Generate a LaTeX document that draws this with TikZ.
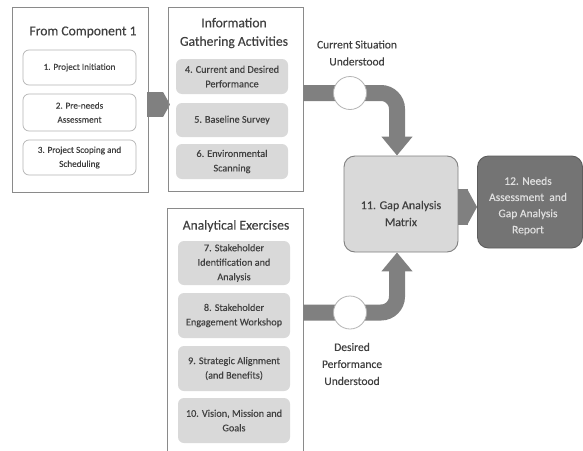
\documentclass[tikz,border=0pt]{standalone}
\usepackage{fontspec}
\setmainfont{Carlito}[FakeBold=0.25]
\usetikzlibrary{arrows.meta}
\definecolor{txt}{HTML}{404040}
\definecolor{band}{HTML}{808080}
\definecolor{frame}{HTML}{8A8A8A}
\definecolor{lightfill}{HTML}{D9D9D9}
\definecolor{darkfill}{HTML}{747474}
\definecolor{pale}{HTML}{B4B4B4}
\tikzset{
  outerbox/.style={draw=frame, line width=0.9pt, fill=white, minimum width=136pt},
  whitebox/.style={draw=pale, line width=0.7pt, fill=white, rounded corners=6pt,
    minimum width=113pt, align=center, text=txt, font=\fontsize{9.2}{14}\selectfont, inner sep=0pt},
  graybox/.style={fill=lightfill, rounded corners=6pt, minimum width=112pt,
    align=center, text=txt, font=\fontsize{10.2}{14.5}\selectfont, inner sep=0pt},
  titletext/.style={text=txt, font=\fontsize{13.6}{18.5}\selectfont, align=center, inner sep=0pt},
  labeltext/.style={text=txt, font=\fontsize{11.5}{17}\selectfont, align=center, inner sep=0pt},
  bandline/.style={draw=band, line width=16pt, rounded corners=16pt,
    -{Triangle[length=19pt,width=30pt]}},
  chevron/.style={draw=band, line width=25pt, -{Triangle[length=7pt,width=25pt]}},
  chevronb/.style={draw=band, line width=36pt, -{Triangle[length=10pt,width=36pt]}},
  circ/.style={circle, draw=pale, line width=0.8pt, fill=white, minimum size=33pt, inner sep=0pt},
}
\begin{document}
\begin{tikzpicture}[x=1pt,y=-1pt]
\useasboundingbox (0,0) rectangle (583,450);
\clip (0,0) rectangle (583,450);
\fill[white] (0,0) rectangle (583,450);

% chevron between first two columns
\coordinate (chA) at (147,104.5);
\coordinate (chB) at (170,104.5);

% outer boxes
\node[outerbox, minimum height=185pt] (outer1) at (80,99.5) {};
\draw[chevron] (chA) -- (chB);
\node[outerbox, minimum width=135pt, minimum height=184pt, fill=none] (outer2) at (235.5,99) {};
\node[outerbox, minimum width=136pt, minimum height=262pt] (outer3) at (235,339) {};

% titles
\node[titletext] (t1) at (83,32) {From Component 1};
\node[titletext] (t2) at (234,33) {Information\\Gathering Activities};
\node[titletext] (t3) at (236,226) {Analytical Exercises};

% column 1
\node[whitebox, minimum height=35pt] (b1) at (79.5,67.5) {1. Project Initiation};
\node[whitebox, minimum height=37pt] (b2) at (79.5,112.5) {2. Pre-needs\\Assessment};
\node[whitebox, minimum height=35pt] (b3) at (79.5,157.5) {3. Project Scoping and\\Scheduling};

% column 2
\node[graybox, minimum height=35pt] (b4) at (232,76.5) {4. Current and Desired\\Performance};
\node[graybox, minimum height=34pt] (b5) at (232,120) {5. Baseline Survey};
\node[graybox, minimum height=35pt] (b6) at (232,161.5) {6. Environmental\\Scanning};

% column 3
\node[graybox, minimum height=44pt] (b7) at (234,263) {7. Stakeholder\\Identification and\\Analysis};
\node[graybox, minimum height=45pt] (b8) at (234,315.5) {8. Stakeholder\\Engagement Workshop};
\node[graybox, minimum height=45pt] (b9) at (234,368.5) {9. Strategic Alignment\\(and Benefits)};
\node[graybox, minimum height=45pt] (b10) at (234,420.5) {10. Vision, Mission and\\Goals};

% gap analysis & report
\node[draw=band, line width=0.9pt, fill=lightfill, rounded corners=11pt,
  minimum width=114pt, minimum height=96pt, inner sep=0pt] (gap) at (401,204) {};
\node[text=txt, font=\fontsize{12}{17}\selectfont, align=center, inner sep=0pt]
  (gaptext) at (401,213.5) {11. Gap Analysis\\Matrix};
\node[draw=darkfill!80!black, line width=0.9pt, fill=darkfill, rounded corners=11pt,
  minimum width=105pt, minimum height=92pt, inner sep=0pt] (needs) at (530,202) {};
\node[text=white!88!black, font=\fontsize{11.5}{16.2}\selectfont, align=center, inner sep=0pt]
  (needstext) at (528,206) {12. Needs\\Assessment\ \ and\\Gap Analysis\\Report};

% chevron gap -> needs (same height at both ends)
\draw[chevronb] ([yshift=-3pt]gap.east) -- ([yshift=-5pt]needs.west);

% connectors with circles
\coordinate (c1) at (350,93);
\coordinate (c2) at (350,312.5);
\draw[bandline] (outer2.east |- c1) -| ([xshift=-4pt]gap.north);
\draw[bandline] (outer3.east |- c2) -| ([xshift=-4pt]gap.south);
\node[circ] (circ1) at (c1) {};
\node[circ] (circ2) at (c2) {};

% labels
\node[labeltext] (l1) at (357,53) {Current Situation\\Understood};
\node[labeltext] (l2) at (352,364) {Desired\\Performance\\Understood};
\end{tikzpicture}
\end{document}
